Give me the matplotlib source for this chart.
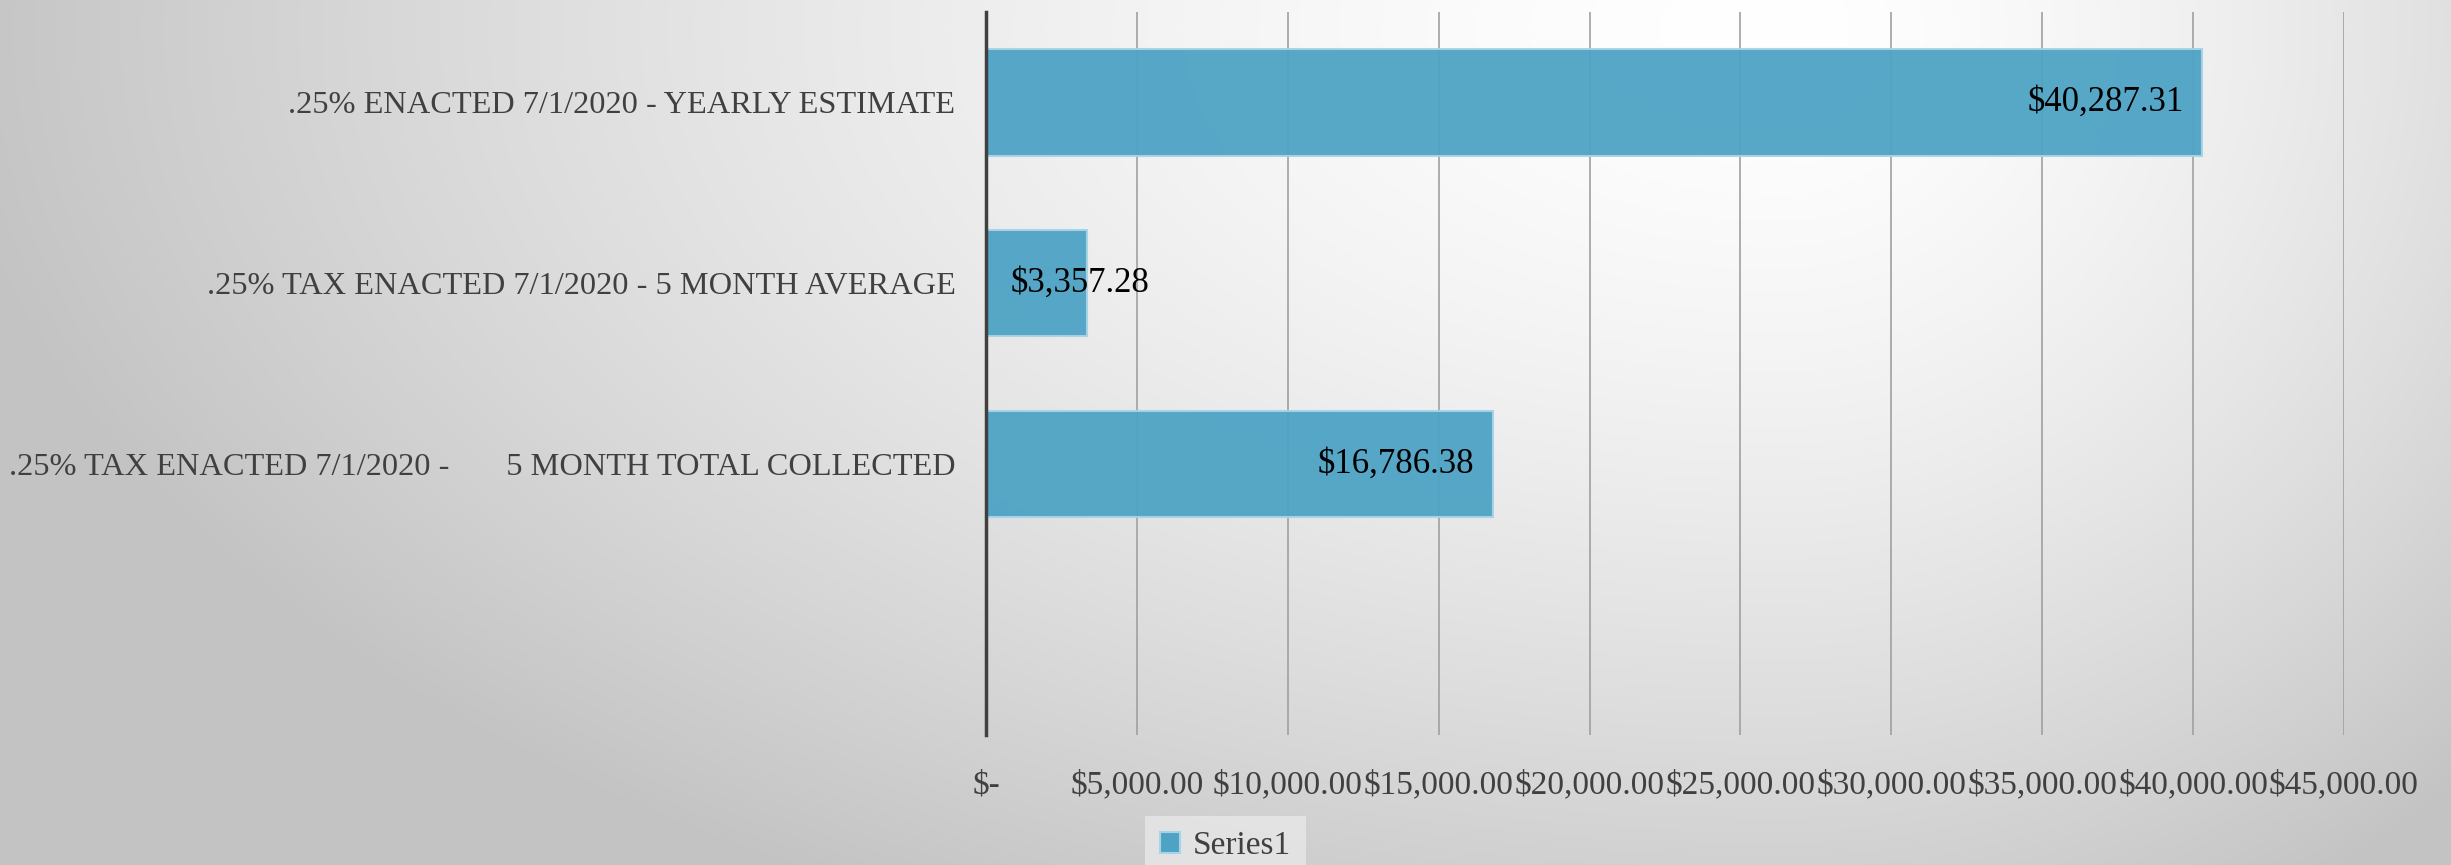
import numpy as np
import matplotlib
matplotlib.use("Agg")
import matplotlib.pyplot as plt
from matplotlib.patches import Patch
from matplotlib.ticker import FuncFormatter, MultipleLocator

# ---- data ----
categories = [
    "",
    ".25% TAX ENACTED 7/1/2020 -       5 MONTH TOTAL COLLECTED",
    ".25% TAX ENACTED 7/1/2020 - 5 MONTH AVERAGE",
    ".25% ENACTED 7/1/2020 - YEARLY ESTIMATE",
]
values = [np.nan, 16786.38, 3357.28, 40287.31]
series_name = "Series1"
x_max = 45000
x_step = 5000

# ---- style ----
W, H, DPI = 2451, 865, 100
bar_color = "#4ea3c5"
bar_edge = "#a8d3e4"
text_gray = "#404040"
font = "Liberation Serif"

fig = plt.figure(figsize=(W / DPI, H / DPI), dpi=DPI)

# radial-ish gradient background
bg = fig.add_axes([0, 0, 1, 1], zorder=-10)
yy, xx = np.mgrid[0:H, 0:W].astype(float)
cx, cy = 1780.0, 30.0
sx = np.where(xx < cx, 1850.0, 1050.0)
sy = 1000.0
d = np.sqrt(((xx - cx) / sx) ** 2 + ((yy - cy) / sy) ** 2)
d = np.clip(d, 0, 1)
g = 255 - 60 * d ** 1.5
img = np.dstack([g, g, g]) / 255.0
bg.imshow(img, aspect="auto", extent=[0, 1, 0, 1], origin="upper")
bg.axis("off")

ax = fig.add_axes([986 / W, 1 - 735 / H, (2344 - 986) / W, (735 - 12) / H])
ax.set_facecolor("none")

ypos = np.arange(len(categories))
vals = np.array(values, dtype=float)
mask = ~np.isnan(vals)
ax.barh(ypos[mask], vals[mask], height=0.59, color=bar_color, edgecolor=bar_edge,
        linewidth=1.5, alpha=0.95, zorder=3)

ax.set_xlim(0, x_max)
ax.set_ylim(-0.5, len(categories) - 0.5)
ax.xaxis.set_major_locator(MultipleLocator(x_step))
ax.grid(axis="x", color="#a0a0a0", linewidth=1.2, zorder=0)
ax.set_axisbelow(True)

def fmt(v, pos):
    if abs(v) < 1e-9:
        return "$-"
    return "${:,.2f}".format(v)

ax.xaxis.set_major_formatter(FuncFormatter(fmt))
ax.set_yticks(ypos)
ax.set_yticklabels(categories)
ax.tick_params(axis="x", length=0, pad=25, labelsize=24, labelcolor=text_gray)
ax.tick_params(axis="y", length=0, pad=22, labelsize=23.3, labelcolor=text_gray)
for lab in ax.get_xticklabels() + ax.get_yticklabels():
    lab.set_fontfamily(font)

for s in ["top", "right", "bottom"]:
    ax.spines[s].set_visible(False)
ax.spines["left"].set_color(text_gray)
ax.spines["left"].set_linewidth(2.5)
ax.spines["left"].set_zorder(5)

# data labels
for y, v in zip(ypos[mask], vals[mask]):
    label = "${:,.2f}".format(v)
    if v > 0.15 * x_max:
        ax.annotate(label, (v, y), xytext=(-13, 0), textcoords="offset points",
                    ha="right", va="center", fontsize=25, family=font, color="black", zorder=6)
    else:
        ax.annotate(label, (v, y), xytext=(-5, 0), textcoords="offset points",
                    ha="center", va="center", fontsize=25, family=font, color="black", zorder=6)

# legend
handle = Patch(facecolor=bar_color, edgecolor=bar_edge, linewidth=1.5)
leg = fig.legend([handle], [series_name], loc="upper center",
                 bbox_to_anchor=(0.5, 1 - 816 / H), frameon=True, fancybox=False,
                 prop={"family": font, "size": 24}, handlelength=0.6, handleheight=0.6,
                 handletextpad=0.4, borderpad=0.45, borderaxespad=0)
leg.get_frame().set_facecolor("#e8e8e8")
leg.get_frame().set_edgecolor("none")
for t in leg.get_texts():
    t.set_color(text_gray)

fig.savefig("out.png", dpi=DPI)
